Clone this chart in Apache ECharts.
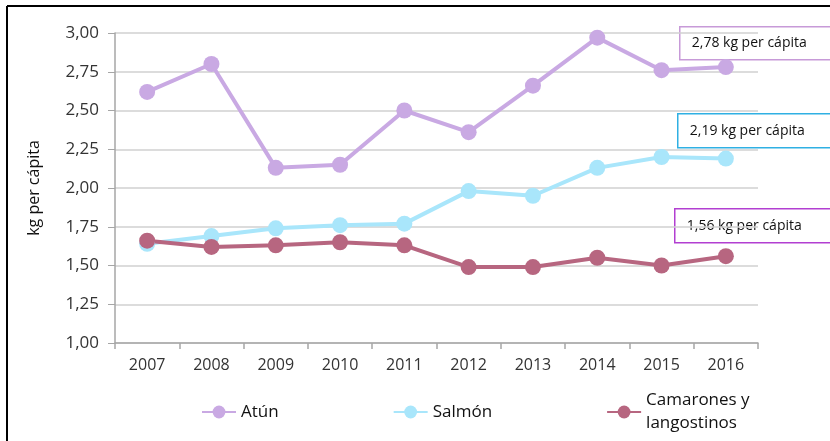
<!DOCTYPE html>
<html>
<head>
<meta charset="utf-8">
<script src="https://cdn.jsdelivr.net/npm/echarts@6/dist/echarts.min.js"></script>
<style>
  html, body { margin: 0; padding: 0; background: #fff; }
  #chart { width: 830px; height: 441px; }
</style>
</head>
<body>
<div id="chart"></div>
<script>
// datos
var years = ['2007', '2008', '2009', '2010', '2011', '2012', '2013', '2014', '2015', '2016'];
var atun = [2.62, 2.80, 2.13, 2.15, 2.50, 2.36, 2.66, 2.97, 2.76, 2.78];
var salmon = [1.64, 1.69, 1.74, 1.76, 1.77, 1.98, 1.95, 2.13, 2.20, 2.19];
var camarones = [1.66, 1.62, 1.63, 1.65, 1.63, 1.49, 1.49, 1.55, 1.50, 1.56];
var seriesNames = ['Atún', 'Salmón', 'Camarones y\nlangostinos'];
var notes = ['2,78 kg per cápita', '2,19 kg per cápita', '1,56 kg per cápita'];

var chart = echarts.init(document.getElementById('chart'));

function lineSerie(name, data, color) {
  return {
    name: name,
    type: 'line',
    data: data,
    symbol: 'circle',
    symbolSize: 16,
    itemStyle: { color: color },
    lineStyle: { width: 4, color: color },
    emphasis: { disabled: true }
  };
}

function noteBox(x, y, w, h, border, text) {
  return {
    type: 'group',
    left: x,
    top: y,
    children: [{
      type: 'rect',
      shape: { x: 0, y: 0, width: w, height: h },
      style: { fill: '#fff', stroke: border, lineWidth: 1.5 }
    }, {
      type: 'text',
      x: 12,
      y: h / 2,
      style: {
        text: text,
        fill: '#111',
        font: '14px "Open Sans", sans-serif',
        verticalAlign: 'middle'
      }
    }]
  };
}

var option = {
  animation: false,
  backgroundColor: '#fff',
  grid: { left: 115, right: 72, top: 33, bottom: 98 },
  legend: {
    bottom: 1,
    left: 196,
    itemGap: 114,
    itemWidth: 34,
    itemHeight: 16,
    textStyle: { fontSize: 17, color: '#111', fontFamily: 'Open Sans', lineHeight: 23 },
    data: seriesNames
  },
  xAxis: {
    type: 'category',
    data: years,
    boundaryGap: true,
    axisLine: { lineStyle: { color: '#a6a6a6', width: 1.5 } },
    axisTick: { show: true, length: 6, lineStyle: { color: '#a6a6a6', width: 1.5 } },
    axisLabel: { fontSize: 16, color: '#333', margin: 14, fontFamily: 'Open Sans' }
  },
  yAxis: {
    type: 'value',
    min: 1,
    max: 3,
    interval: 0.25,
    name: 'kg per cápita',
    nameLocation: 'middle',
    nameRotate: 90,
    nameGap: 73,
    nameTextStyle: { fontSize: 16, color: '#111', fontFamily: 'Open Sans' },
    axisLine: { show: true, lineStyle: { color: '#a6a6a6', width: 1.5 } },
    axisTick: { show: true, length: 7, lineStyle: { color: '#a6a6a6' } },
    axisLabel: {
      fontSize: 17,
      color: '#333',
      margin: 16,
      fontFamily: 'Open Sans',
      formatter: function (v) { return v.toFixed(2).replace('.', ','); }
    },
    splitLine: { lineStyle: { color: '#d0d0d0', width: 1.5 } }
  },
  series: [
    lineSerie(seriesNames[0], atun, '#c9a9e3'),
    lineSerie(seriesNames[1], salmon, '#a9e6fb'),
    lineSerie(seriesNames[2], camarones, '#b76680')
  ],
  graphic: [
    { type: 'line', shape: { x1: 7, y1: 6, x2: 830, y2: 6 }, style: { stroke: '#000', lineWidth: 2 } },
    { type: 'line', shape: { x1: 7, y1: 6, x2: 7, y2: 441 }, style: { stroke: '#000', lineWidth: 2 } },
    noteBox(679, 26, 152, 33, '#c79ad8', notes[0]),
    noteBox(677, 113, 155, 34, '#2fb0e3', notes[1]),
    noteBox(674, 208, 158, 34, '#b23fd1', notes[2])
  ]
};
chart.setOption(option);
</script>
</body>
</html>
